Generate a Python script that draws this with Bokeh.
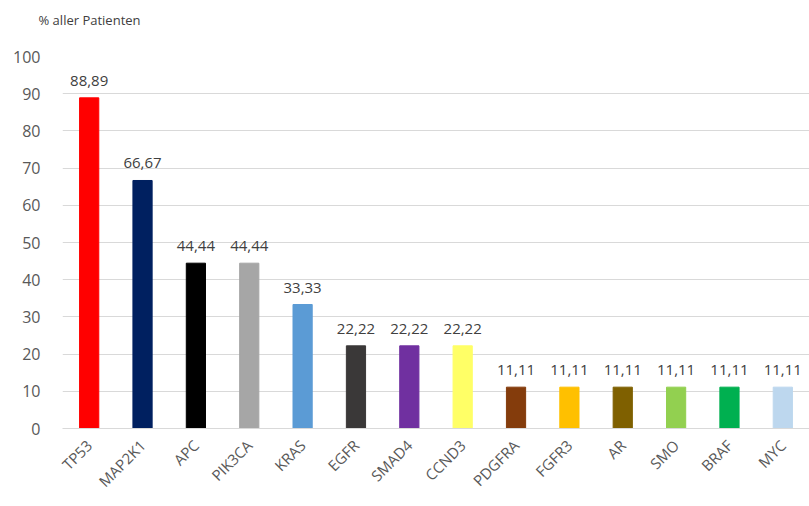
import math
from bokeh.plotting import figure
from bokeh.models import ColumnDataSource, LabelSet, FixedTicker, Title
from bokeh.core.properties import value
from bokeh.embed import file_html
from bokeh.resources import INLINE

genes = ["TP53", "MAP2K1", "APC", "PIK3CA", "KRAS", "EGFR", "SMAD4", "CCND3",
         "PDGFRA", "FGFR3", "AR", "SMO", "BRAF", "MYC"]
values = [88.89, 66.67, 44.44, 44.44, 33.33, 22.22, 22.22, 22.22,
          11.11, 11.11, 11.11, 11.11, 11.11, 11.11]
colors = ["#FF0000", "#002060", "#000000", "#A6A6A6", "#5B9BD5", "#3A3838", "#7030A0",
          "#FFFF66", "#843C0C", "#FFC000", "#7F6000", "#92D050", "#00B050", "#BDD7EE"]
labels = [f"{v:.2f}".replace(".", ",") for v in values]
y_ticks = [0, 10, 20, 30, 40, 50, 60, 70, 80, 90, 100]

src = ColumnDataSource(dict(genes=genes, values=values, colors=colors, labels=labels))

p = figure(x_range=genes, y_range=(0, 100), width=809, height=506,
           output_backend="svg", toolbar_location=None,
           title="% aller Patienten",
           min_border_left=62, min_border_right=0, min_border_top=56, min_border_bottom=78)
p.outline_line_color = None
p.background_fill_color = "white"
p.border_fill_color = "white"

p.title.text_font = "Open Sans"
p.title.text_font_size = "13px"
p.title.text_font_style = "normal"
p.title.text_color = "#404040"
p.title.align = "left"
p.title.offset = -24
p.title.standoff = 10

p.add_layout(Title(text=" ", text_font_size="19px", standoff=0), "above")

p.vbar(x="genes", top="values", width=0.36, color="colors", source=src)

p.add_layout(LabelSet(x="genes", y="values", text="labels", source=src,
                      text_align="center", text_baseline="bottom", y_offset=12,
                      text_font=value("Open Sans"), text_font_size="15px",
                      text_color="#404040"))

p.yaxis.ticker = FixedTicker(ticks=y_ticks)
p.yaxis.axis_line_color = None
p.yaxis.major_tick_line_color = None
p.yaxis.minor_tick_line_color = None
p.yaxis.major_label_standoff = 16
p.yaxis.major_label_text_font = "Open Sans"
p.yaxis.major_label_text_font_size = "16px"
p.yaxis.major_label_text_color = "#595959"

p.xaxis.axis_line_color = "#D9D9D9"
p.xaxis.major_tick_line_color = None
p.xaxis.minor_tick_line_color = None
p.xaxis.major_label_orientation = math.pi / 4
p.xaxis.major_label_standoff = 8
p.xaxis.major_label_text_font = "Open Sans"
p.xaxis.major_label_text_font_size = "15px"
p.xaxis.major_label_text_color = "#595959"

p.xgrid.grid_line_color = None
p.ygrid.grid_line_color = "#D9D9D9"
p.ygrid.ticker = FixedTicker(ticks=y_ticks)

open("out.html", "w").write(file_html(p, INLINE))
